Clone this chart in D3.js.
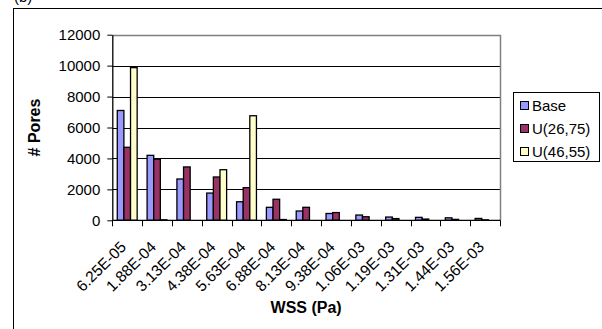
<!DOCTYPE html>
<html>
<head>
<meta charset="utf-8">
<script src="https://cdn.jsdelivr.net/npm/d3@7"></script>
<style>
  html, body { margin: 0; padding: 0; background: #fff; }
  svg { display: block; }
  text { font-family: "Liberation Sans", Arial, sans-serif; fill: #000; }
</style>
</head>
<body>
<svg id="chart" width="602" height="329"></svg>
<script>
// WSS bins (Pa)
const categories = ["6.25E-05", "1.88E-04", "3.13E-04", "4.38E-04", "5.63E-04", "6.88E-04",
  "8.13E-04", "9.38E-04", "1.06E-03", "1.19E-03", "1.31E-03", "1.44E-03", "1.56E-03"];

// Pore counts per bin
const base  = [7100, 4200, 2670, 1760, 1200, 840, 600, 440, 340, 210, 190, 160, 120];
const u2675 = [4720, 3950, 3450, 2800, 2110, 1360, 840, 500, 230, 110, 80, 60, 30];
const u4655 = [9870, 30, 0, 3270, 6760, 50, 0, 0, 0, 0, 0, 0, 0];

const seriesNames = ["Base", "U(26,75)", "U(46,55)"];
const seriesColors = ["#9999FF", "#993366", "#FFFFCC"];
const yTicks = [0, 2000, 4000, 6000, 8000, 10000, 12000];

const series = [base, u2675, u4655];

const svg = d3.select("#chart");

// outer chart frame
svg.append("rect")
  .attr("x", 13.5).attr("y", 8.5)
  .attr("width", 620).attr("height", 340)
  .attr("fill", "none").attr("stroke", "#000").attr("stroke-width", 1);

// panel label
svg.append("text")
  .attr("x", 14).attr("y", 2)
  .style("font-size", "15px")
  .text("(b)");

const plotLeft = 112.3, plotRight = 500, plotTop = 34.7, plotBottom = 220.3;

const x = d3.scaleBand().domain(categories).range([plotLeft, plotRight]).padding(0);
const y = d3.scaleLinear().domain([0, 12000]).range([plotBottom, plotTop]);

// bar geometry: three bars per group, 150% gap width
const bw = x.bandwidth() / 4.5;
const groupOffset = 0.75 * bw;

// gridlines
svg.append("g")
  .selectAll("line")
  .data(yTicks.filter(t => t > 0 && t < 12000))
  .join("line")
  .attr("x1", plotLeft).attr("x2", plotRight)
  .attr("y1", d => Math.round(y(d)) + 0.5).attr("y2", d => Math.round(y(d)) + 0.5)
  .attr("stroke", "#000").attr("stroke-width", 1);

// plot area border (top and right)
svg.append("path")
  .attr("d", `M${plotLeft},${Math.round(plotTop) + 0.5}H${Math.round(plotRight) + 0.5}V${plotBottom}`)
  .attr("fill", "none").attr("stroke", "#808080").attr("stroke-width", 1.5);

// bars
series.forEach((vals, si) => {
  svg.append("g")
    .selectAll("rect")
    .data(vals.map((v, i) => ({ v, c: categories[i] })).filter(d => d.v > 0))
    .join("rect")
    .attr("x", d => x(d.c) + groupOffset + si * bw)
    .attr("y", d => y(d.v))
    .attr("width", bw)
    .attr("height", d => plotBottom - y(d.v))
    .attr("fill", seriesColors[si])
    .attr("stroke", "#000")
    .attr("stroke-width", 1.3);
});

// y axis
const yAxis = d3.axisLeft(y)
  .tickValues(yTicks)
  .tickFormat(d3.format("d"))
  .tickSize(5).tickSizeOuter(0).tickPadding(7);
const gy = svg.append("g")
  .attr("transform", `translate(${plotLeft},0)`)
  .call(yAxis);
gy.select(".domain").attr("stroke", "#000").attr("stroke-width", 1.3);
gy.selectAll(".tick line").attr("stroke", "#000");
gy.selectAll(".tick text")
  .style("font-size", "15px")
  .style("font-family", "'Liberation Sans', Arial, sans-serif");

// x axis: ticks on band boundaries
svg.append("line")
  .attr("x1", plotLeft).attr("x2", plotRight + 0.5)
  .attr("y1", plotBottom).attr("y2", plotBottom)
  .attr("stroke", "#000").attr("stroke-width", 1.3);

const boundaries = categories.map(c => x(c)).concat([plotRight]);
svg.append("g")
  .selectAll("line")
  .data(boundaries)
  .join("line")
  .attr("x1", d => Math.round(d) + 0.5).attr("x2", d => Math.round(d) + 0.5)
  .attr("y1", plotBottom).attr("y2", plotBottom + 6)
  .attr("stroke", "#000");

// rotated category labels
svg.append("g")
  .selectAll("text")
  .data(categories)
  .join("text")
  .attr("text-anchor", "end")
  .attr("transform", d => `translate(${x(d) + x.bandwidth() / 2},248) rotate(-45)`)
  .style("font-size", "15.5px")
  .text(d => d);

// axis titles
svg.append("text")
  .attr("x", (plotLeft + plotRight) / 2).attr("y", 313)
  .attr("text-anchor", "middle")
  .style("font-size", "16px").style("font-weight", "bold")
  .text("WSS (Pa)");

svg.append("text")
  .attr("transform", `translate(40,${(plotTop + plotBottom) / 2}) rotate(-90)`)
  .attr("text-anchor", "middle")
  .style("font-size", "16px").style("font-weight", "bold")
  .text("# Pores");

// legend
const lg = svg.append("g");
lg.append("rect")
  .attr("x", 513.5).attr("y", 92.5)
  .attr("width", 86).attr("height", 69)
  .attr("fill", "#fff").attr("stroke", "#000");
seriesNames.forEach((name, i) => {
  const cy = 106 + i * 23;
  lg.append("rect")
    .attr("x", 520.5).attr("y", cy - 4.5)
    .attr("width", 8).attr("height", 8)
    .attr("fill", seriesColors[i]).attr("stroke", "#000");
  lg.append("text")
    .attr("x", 532).attr("y", cy)
    .attr("dy", "0.35em")
    .style("font-size", "15px")
    .text(name);
});
</script>
</body>
</html>
